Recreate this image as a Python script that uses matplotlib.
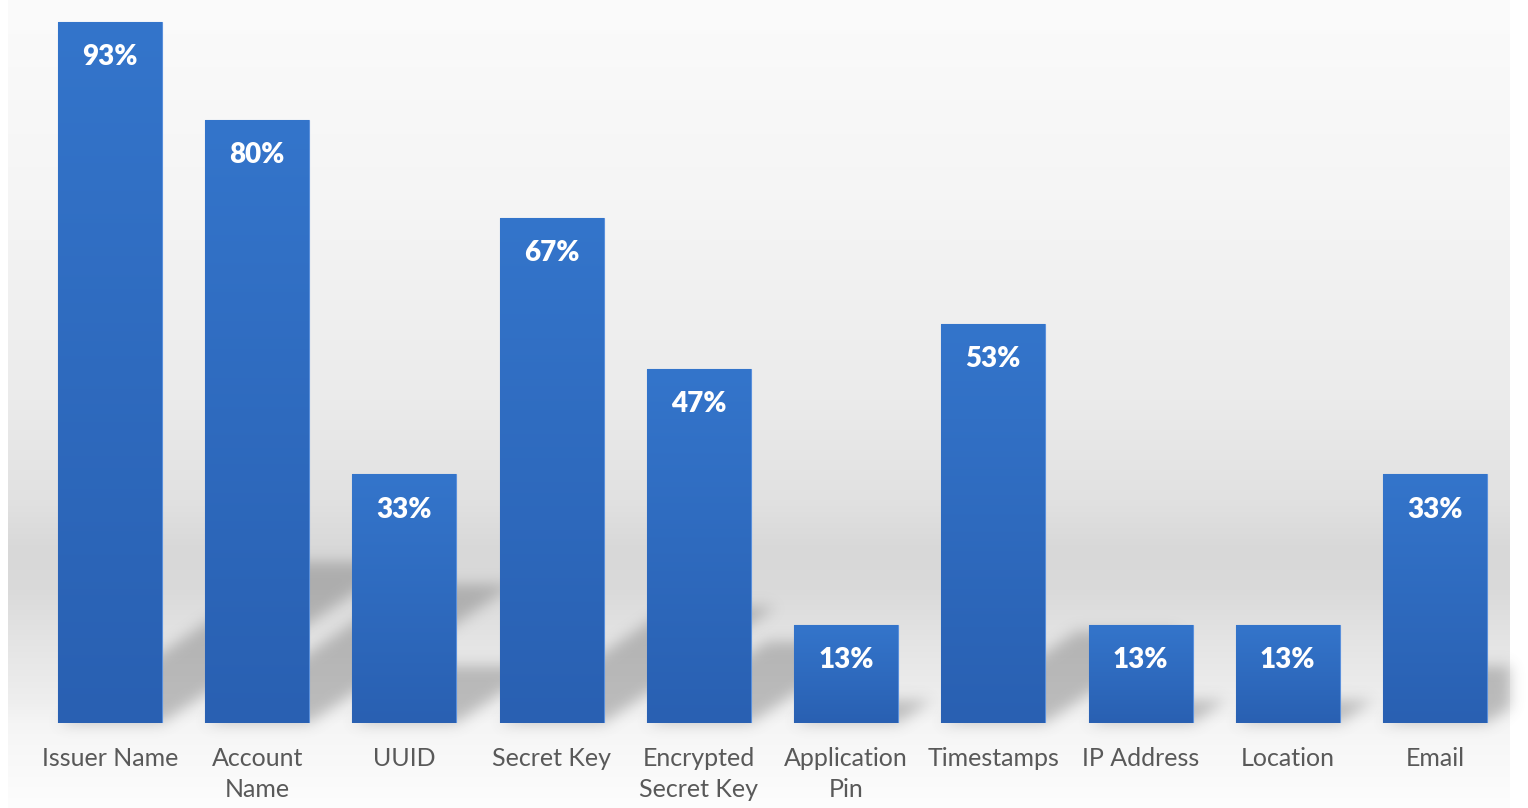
import numpy as np
import matplotlib
matplotlib.use("Agg")
import matplotlib.pyplot as plt
from matplotlib.colors import LinearSegmentedColormap
from matplotlib.patches import Polygon

# ---- data ----
categories = ["Issuer Name", "Account\nName", "UUID", "Secret Key", "Encrypted\nSecret Key",
              "Application\nPin", "Timestamps", "IP Address", "Location", "Email"]
values = [93, 80, 33, 67, 47, 13, 53, 13, 13, 33]

W, H = 1528, 808
fig = plt.figure(figsize=(W / 100, H / 100), dpi=100)
fig.patch.set_facecolor("white")

# ---- background gradient (figure pixel space) ----
bg = fig.add_axes([0, 0, 1, 1], zorder=-2)
bg.set_xlim(0, W)
bg.set_ylim(H, 0)
bg.axis("off")
stops_y = [0, 200, 400, 500, 550, 590, 640, 700, 723, 808]
stops_c = [251, 245, 235, 225, 216, 218, 228, 238, 245, 253]
yy = np.arange(H)
col = np.interp(yy, stops_y, stops_c) / 255.0
grad = np.repeat(col[:, None], 2, axis=1)
bg.imshow(np.dstack([grad, grad, grad]), extent=[8, 1510, H, 0], aspect="auto",
          interpolation="bilinear")

# ---- main axes ----
px_per_unit_y = 701 / 93.0
base_px = 723
left_px, right_px = 8, 1510
c0, step = 110.0, 147.22
ax = fig.add_axes([left_px / W, (H - base_px) / H, (right_px - left_px) / W, base_px / H])
ax.set_facecolor("none")
for s in ax.spines.values():
    s.set_visible(False)
ax.set_yticks([])

x = np.arange(len(values))
bw = 0.706


# ---- blurred shadows ----
def make_blur(sigma_px, color, alpha):
    def f(im, dpi):
        pad = int(3 * sigma_px)
        a = np.pad(im[:, :, 3], ((pad, pad), (pad, pad)))
        k = np.arange(-pad, pad + 1)
        k = np.exp(-k ** 2 / (2.0 * sigma_px ** 2))
        k /= k.sum()
        a = np.apply_along_axis(lambda m: np.convolve(m, k, mode="same"), 0, a)
        a = np.apply_along_axis(lambda m: np.convolve(m, k, mode="same"), 1, a)
        out = np.empty((a.shape[0], a.shape[1], 4))
        out[:, :, 0] = color[0]
        out[:, :, 1] = color[1]
        out[:, :, 2] = color[2]
        out[:, :, 3] = np.clip(a * alpha, 0, 1)
        return out, -pad, -pad
    return f


b_frac = 0.23
a_shift = 0.34 * px_per_unit_y / step
for xi, v in zip(x, values):
    x0, x1 = xi - bw / 2, xi + bw / 2
    dx = a_shift * v
    top = b_frac * v
    poly = Polygon([(x0, 0), (x1, 0), (x1 + dx, top), (x0 + dx, top)], closed=True,
                   facecolor="black", edgecolor="none", zorder=1)
    poly.set_agg_filter(make_blur(7, (0.40, 0.40, 0.40), 0.38))
    ax.add_patch(poly)

# ---- bars with vertical gradient ----
cmap = LinearSegmentedColormap.from_list("bar", ["#2960b2", "#3475cb"])
bars = ax.bar(x, values, width=bw, color="#2e6abf", edgecolor="#5a90dc",
              linewidth=0.8, zorder=3)
gv = np.linspace(0, 1, 256)[:, None]
for b in bars:
    bx = b.get_x()
    im = ax.imshow(gv, extent=[bx, bx + b.get_width(), 0, b.get_height()],
                   origin="lower", aspect="auto", cmap=cmap, zorder=3.5,
                   interpolation="bilinear")
    im.set_clip_path(b)
ax.set_xlim((left_px - c0) / step, (right_px - c0) / step)
ax.set_ylim(0, base_px / px_per_unit_y)

for xi, v in zip(x, values):
    ax.annotate(f"{v}%", (xi, v), xytext=(0, -25.5), textcoords="offset points",
                ha="center", va="center", color="white", fontsize=20,
                fontweight="heavy", family="Lato", zorder=5)

ax.set_xticks(x)
ax.set_xticklabels(categories, family="Lato", fontsize=18, color="#595959",
                   linespacing=1.42, va="top")
ax.tick_params(axis="x", length=0, pad=17)

fig.savefig("out.png", dpi=100)
